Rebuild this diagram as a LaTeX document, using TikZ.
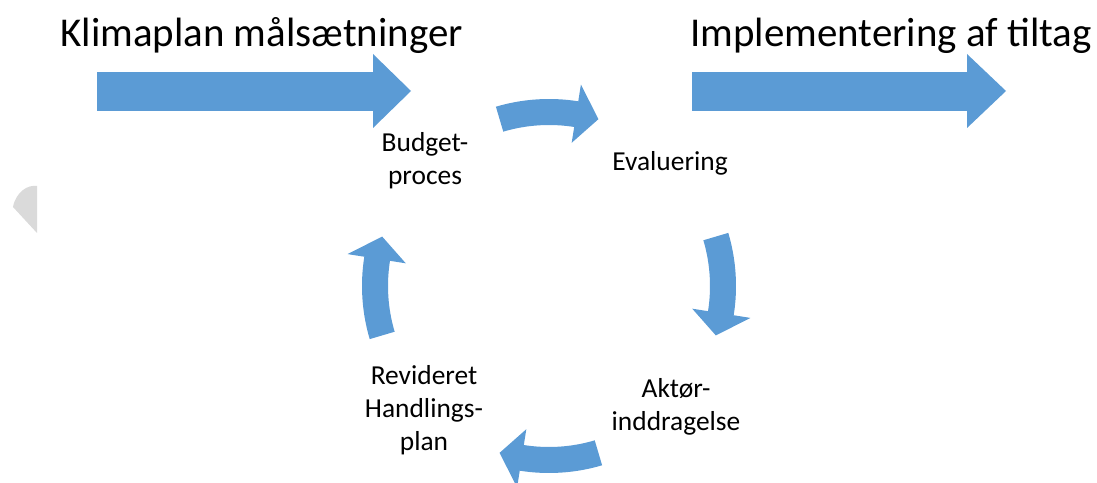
\documentclass[tikz,border=0pt]{standalone}
\usepackage{fontspec}
\setmainfont{Carlito}
\usepackage{tikz}
\usetikzlibrary{calc}
\definecolor{arrowblue}{HTML}{5B9BD5}
\definecolor{pagegray}{HTML}{DADADA}

\begin{document}
\begin{tikzpicture}[big/.style={fill=arrowblue}, cyc/.style={fill=arrowblue},
	title/.style={anchor=base west, inner sep=0pt, font=\fontsize{23.3}{28}\selectfont},
	label/.style={align=center, inner sep=0pt, font=\fontsize{15.6}{18.8}\selectfont}]
		\useasboundingbox (0,0) rectangle (21.94,9.64);
		% side marker
		\fill[pagegray] (0.74,5.92) -- (0.74,4.98) -- (0.26,5.50) .. controls (0.32,5.80) and (0.55,5.95) .. cycle;
		% headings
		\node[title] (goals) at (1.20,8.70) {Klimaplan målsætninger};
		\node[title] (impl) at (13.80,8.70) {Implementering af tiltag};
		% big arrows
		\fill[big] (1.94,7.42) rectangle (7.46,8.20);
		\fill[big] (7.46,7.08) -- (8.22,7.82) -- (7.46,8.56) -- cycle;
		\fill[big] (13.84,7.42) rectangle (19.34,8.20);
		\fill[big] (19.34,7.08) -- (20.12,7.82) -- (19.34,8.56) -- cycle;
		% cycle
		\coordinate (mid) at (10.98,3.92);
		\node[label] (budget) at (8.50,6.42) {Budget-\\proces};
		\node[label] (eval) at (13.40,6.38) {Evaluering};
		\node[label] (aktor) at (13.52,1.50) {Aktør-\\inddragelse};
		\node[label] (plan) at (8.48,1.44) {Revideret\\Handlings-\\plan};
		\begin{scope}[shift={(mid)}]
			\foreach \a in {90,0,-90,180}
				\fill[cyc] (\a+16.5:3.74) arc[start angle=\a+16.5, end angle=\a-9, radius=3.74]
					-- (\a-9:4.08) -- (\a-16.5:3.48) -- (\a-9:2.90) -- (\a-9:3.22)
					arc[start angle=\a-9, end angle=\a+16.5, radius=3.22] -- cycle;
		\end{scope}
	\end{tikzpicture}
\end{document}
